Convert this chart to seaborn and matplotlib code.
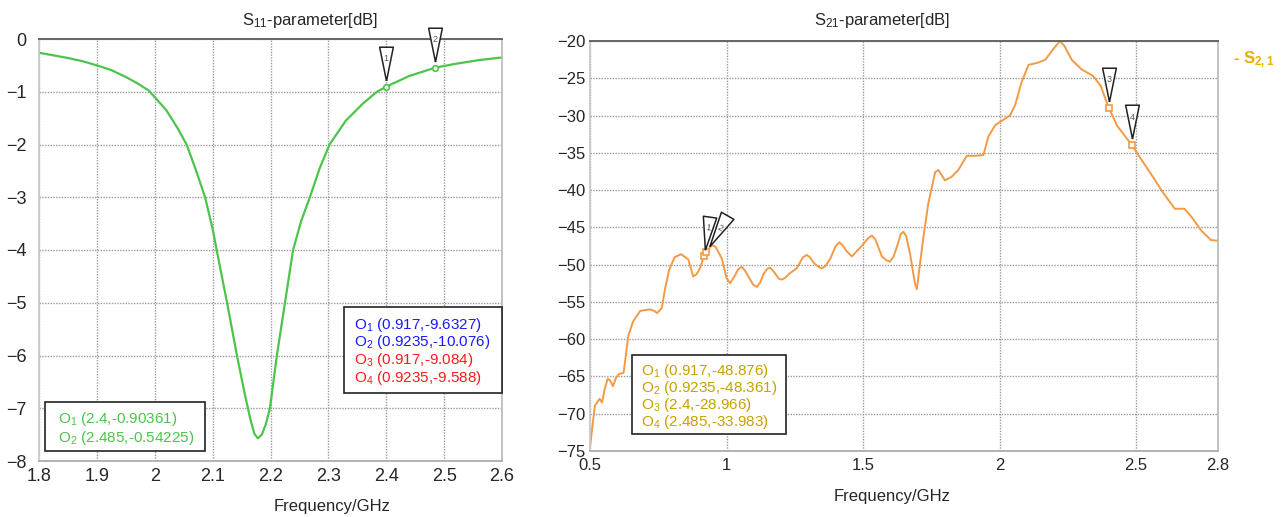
import numpy as np
import pandas as pd
import matplotlib
matplotlib.use("Agg")
import matplotlib.pyplot as plt
from matplotlib.patches import Rectangle
import seaborn as sns

# S11 kurve (GHz, dB)
s11_freq = [1.80, 1.85, 1.875, 1.90, 1.925, 1.95, 1.97, 1.99, 2.02, 2.04, 2.055, 2.07,
            2.087, 2.10, 2.107, 2.125, 2.142, 2.155, 2.165, 2.172, 2.178, 2.185, 2.192,
            2.199, 2.211, 2.225, 2.239, 2.253, 2.268, 2.285, 2.302, 2.33, 2.36, 2.384,
            2.40, 2.44, 2.485, 2.52, 2.56, 2.60]
s11_db = [-0.26, -0.36, -0.42, -0.50, -0.59, -0.72, -0.84, -0.98, -1.35, -1.70, -2.0,
          -2.45, -3.0, -3.6, -4.0, -5.0, -6.0, -6.7, -7.2, -7.48, -7.57, -7.50, -7.3,
          -7.0, -6.0, -5.0, -4.0, -3.45, -3.0, -2.45, -2.0, -1.55, -1.22, -1.0,
          -0.90361, -0.70, -0.54225, -0.47, -0.40, -0.35]

# S21 kurve (GHz, dB)
s21_freq = [0.500, 0.505, 0.518, 0.535, 0.544, 0.555, 0.565, 0.575, 0.584, 0.595, 0.605,
            0.623, 0.632, 0.640, 0.658, 0.684, 0.719, 0.735, 0.746, 0.763, 0.775, 0.790,
            0.810, 0.834, 0.860, 0.878, 0.890, 0.904, 0.917, 0.9235, 0.946, 0.960, 0.983,
            1.000, 1.013, 1.030, 1.043, 1.056, 1.068, 1.080, 1.098, 1.111, 1.123, 1.135,
            1.148, 1.159, 1.170, 1.180, 1.192, 1.202, 1.214, 1.230, 1.257, 1.280, 1.294,
            1.305, 1.320, 1.337, 1.349, 1.362, 1.380, 1.400, 1.413, 1.425, 1.440, 1.459,
            1.495, 1.520, 1.532, 1.545, 1.569, 1.585, 1.599, 1.612, 1.625, 1.638, 1.648,
            1.658, 1.672, 1.690, 1.697, 1.710, 1.721, 1.739, 1.764, 1.776, 1.800, 1.825,
            1.849, 1.880, 1.910, 1.941, 1.959, 1.984, 2.008, 2.038, 2.057, 2.080, 2.106,
            2.141, 2.168, 2.194, 2.221, 2.238, 2.264, 2.300, 2.343, 2.370, 2.400, 2.431,
            2.485, 2.510, 2.563, 2.598, 2.642, 2.677, 2.703, 2.738, 2.774, 2.800]
s21_db = [-74.5, -72.9, -68.9, -68.0, -68.5, -66.5, -65.3, -65.6, -66.3, -65.2, -64.7,
          -64.5, -62.0, -59.6, -57.6, -56.2, -56.0, -56.2, -56.5, -55.8, -53.2, -50.7,
          -49.0, -48.6, -49.3, -51.6, -51.3, -50.4, -48.876, -48.361, -47.4, -47.6, -49.2,
          -51.8, -52.5, -51.5, -50.6, -50.3, -50.8, -51.6, -52.7, -53.0, -52.4, -51.3,
          -50.6, -50.4, -50.8, -51.3, -51.9, -52.0, -51.8, -51.2, -50.5, -49.0, -48.7,
          -49.0, -49.8, -50.3, -50.5, -50.2, -49.2, -47.5, -47.0, -47.4, -48.2, -48.9,
          -47.5, -46.4, -46.1, -46.6, -48.9, -49.4, -49.6, -48.9, -47.5, -45.9, -45.6,
          -46.2, -48.5, -52.5, -53.3, -49.5, -46.3, -41.8, -37.6, -37.3, -38.7, -38.2,
          -37.3, -35.4, -35.4, -35.3, -32.8, -31.3, -30.7, -30.0, -28.6, -25.6, -23.2,
          -22.9, -22.5, -21.2, -20.0, -20.7, -22.5, -23.8, -24.7, -26.0, -28.966, -31.4,
          -33.983, -35.4, -38.3, -40.3, -42.5, -42.5, -43.6, -45.4, -46.7, -46.8]

# markører
s11_mark_freq = [2.4, 2.485]
s11_mark_db = [-0.90361, -0.54225]
s11_mark_id = ["1", "2"]
s21_mark_freq = [0.917, 0.9235, 2.4, 2.485]
s21_mark_db = [-48.876, -48.361, -28.966, -33.983]
s21_mark_id = ["1", "2", "3", "4"]

# akser
s11_xticks = [1.8, 1.9, 2.0, 2.1, 2.2, 2.3, 2.4, 2.5, 2.6]
s11_xlabels = ["1.8", "1.9", "2", "2.1", "2.2", "2.3", "2.4", "2.5", "2.6"]
s11_yticks = [0, -1, -2, -3, -4, -5, -6, -7, -8]
s21_xticks = [0.5, 1.0, 1.5, 2.0, 2.5, 2.8]
s21_xlabels = ["0.5", "1", "1.5", "2", "2.5", "2.8"]
s21_yticks = [-20, -25, -30, -35, -40, -45, -50, -55, -60, -65, -70, -75]

# tekstbokse
box_green = ["O$_1$ (2.4,-0.90361)", "O$_2$ (2.485,-0.54225)"]
box_mixed = ["O$_1$ (0.917,-9.6327)", "O$_2$ (0.9235,-10.076)",
             "O$_3$ (0.917,-9.084)", "O$_4$ (0.9235,-9.588)"]
box_mixed_colors = ["#1a1aff", "#1a1aff", "#ff1a1a", "#ff1a1a"]
box_gold = ["O$_1$ (0.917,-48.876)", "O$_2$ (0.9235,-48.361)",
            "O$_3$ (2.4,-28.966)", "O$_4$ (2.485,-33.983)"]

GREEN = "#4cc44c"
ORANGE = "#f39a45"
GOLD = "#c9a000"
W, H = 1283, 517

sns.set_theme(style="white")
plt.rcParams["font.family"] = ["Liberation Sans", "DejaVu Sans"]
plt.rcParams["mathtext.default"] = "regular"


def px(x, y):
    # pixel -> figur brøk
    return x / W, 1 - y / H


def flag_marker(angle=0.0):
    verts = np.array([[0, 0.16], [-0.17, 1.0], [0.17, 1.0], [0, 0.16]])
    a = np.deg2rad(angle)
    rot = np.array([[np.cos(a), -np.sin(a)], [np.sin(a), np.cos(a)]])
    return [tuple(v) for v in verts @ rot.T]


def draw_flags(ax, freqs, vals, ids, color, angles=None, point_marker="o"):
    if angles is None:
        angles = [0] * len(freqs)
    size = 58
    for f, v, i, ang in zip(freqs, vals, ids, angles):
        ax.plot(f, v, marker=point_marker, ms=4, mfc="white", mec=color, mew=1.2,
                zorder=5, clip_on=False)
        ax.plot(f, v, marker=flag_marker(ang), ms=size, mfc="white", mec="#222222",
                mew=1.1, ls="none", zorder=6, clip_on=False)
        a = np.deg2rad(ang)
        r = 0.5 * size * 0.7
        ax.annotate(i, xy=(f, v), xytext=(-r * np.sin(a), r * np.cos(a)),
                    textcoords="offset points", ha="center", va="center",
                    fontsize=6.5, color="#555555", rotation=ang, zorder=7)


def style_axes(ax):
    ax.grid(True, linestyle=(0, (1, 1)), color="#9a9a9a", linewidth=1.0)
    ax.tick_params(length=0, labelsize=13, pad=5)
    ax.spines["top"].set_color("#666666")
    ax.spines["top"].set_linewidth(1.4)
    ax.spines["left"].set_color("#c8c8c8")
    ax.spines["right"].set_color("#bbbbbb")
    ax.spines["bottom"].set_color("#aaaaaa")
    for s in ax.spines.values():
        s.set_visible(True)


fig = plt.figure(figsize=(W / 100, H / 100), dpi=100)

# venstre panel: S11
l, b = px(39, 461)
ax1 = fig.add_axes([l, b, (502 - 39) / W, (461 - 39) / H])
sns.lineplot(x=s11_freq, y=s11_db, ax=ax1, color=GREEN, linewidth=1.6,
             estimator=None, sort=False)
ax1.set_xlim(1.8, 2.6)
ax1.set_ylim(-8, 0)
ax1.set_xticks(s11_xticks, s11_xlabels)
ax1.set_yticks(s11_yticks)
style_axes(ax1)
ax1.tick_params(axis="y", pad=9)
draw_flags(ax1, s11_mark_freq, s11_mark_db, s11_mark_id, GREEN)

# højre panel: S21
l, b = px(590, 451)
ax2 = fig.add_axes([l, b, (1218 - 590) / W, (451 - 41) / H])
sns.lineplot(x=s21_freq, y=s21_db, ax=ax2, color=ORANGE, linewidth=1.4,
             estimator=None, sort=False)
ax2.set_xlim(0.5, 2.8)
ax2.set_ylim(-75, -20)
ax2.set_xticks(s21_xticks, s21_xlabels)
ax2.set_yticks(s21_yticks)
style_axes(ax2)
ax2.tick_params(axis="y", labelsize=12, pad=3)
ax2.tick_params(axis="x", labelsize=12)
draw_flags(ax2, s21_mark_freq, s21_mark_db, s21_mark_id, ORANGE,
           angles=[-8, -30, 0, 0], point_marker="s")

# titler og aksetekster
fig.text(*px(310, 21), "S$_{11}$-parameter[dB]", ha="center", va="center", fontsize=12)
fig.text(*px(882, 21), "S$_{21}$-parameter[dB]", ha="center", va="center", fontsize=12)
fig.text(*px(332, 507), "Frequency/GHz", ha="center", va="center", fontsize=12)
fig.text(*px(892, 497), "Frequency/GHz", ha="center", va="center", fontsize=12)
fig.text(*px(1233, 60), "- S$_{2,1}$", ha="left", va="center", fontsize=12,
         color="#e8b000", fontweight="bold")


def text_box(x0, y0, x1, y1, lines, colors, xt, ys):
    fig.patches.append(Rectangle(px(x0, y1), (x1 - x0) / W, (y1 - y0) / H,
                                 transform=fig.transFigure, facecolor="white",
                                 edgecolor="#222222", linewidth=1.2, zorder=10))
    for txt, c, yy in zip(lines, colors, ys):
        fig.text(*px(xt, yy), txt, ha="left", va="center", fontsize=11,
                 color=c, zorder=11)


text_box(45, 402, 205, 451, box_green, [GREEN] * 2, 58, [419, 438])
text_box(344, 307, 502, 393, box_mixed, box_mixed_colors, 354, [325, 342, 360, 378])
text_box(632, 355, 786, 434, box_gold, [GOLD] * 4, 641, [371, 388, 405, 422])

fig.savefig("out.png", dpi=100)
